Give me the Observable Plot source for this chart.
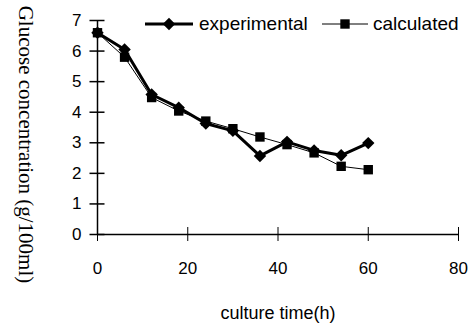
<!DOCTYPE html>
<html><head><meta charset="utf-8">
<script src="https://cdn.jsdelivr.net/npm/d3@7"></script>
<script src="https://cdn.jsdelivr.net/npm/@observablehq/plot@0.6"></script>
<style>html,body{margin:0;padding:0;background:#fff} svg{display:block}</style>
</head><body><div id="chart"></div>
<script>
const time = [0, 6, 12, 18, 24, 30, 36, 42, 48, 54, 60];
const experimental = [6.6, 6.05, 4.58, 4.15, 3.63, 3.39, 2.57, 3.03, 2.75, 2.59, 2.99];
const calculated = [6.6, 5.8, 4.48, 4.04, 3.71, 3.46, 3.19, 2.94, 2.67, 2.23, 2.12];
const xTicks = [0, 20, 40, 60, 80];
const yTicks = [0, 1, 2, 3, 4, 5, 6, 7];
const seriesNames = ["experimental", "calculated"];
const xLabel = "culture time(h)";
const yLabel = "Glucose concentration (g/100ml)";

const W = 472, H = 324, mL = 97, mR = 14, mT = 20, mB = 90;
const frameW = W - mL - mR, frameH = H - mT - mB;
const yTickHalf = 7.5, xTickHalf = 7;
const expRows = time.map((t, i) => ({t, v: experimental[i]}));
const calcRows = time.map((t, i) => ({t, v: calculated[i]}));

const plot = Plot.plot({
  width: W, height: H,
  marginLeft: mL, marginRight: mR, marginTop: mT, marginBottom: mB,
  x: {domain: [xTicks[0], xTicks[xTicks.length - 1]]},
  y: {domain: [yTicks[0], yTicks[yTicks.length - 1]]},
  style: {fontFamily: "'Liberation Sans', Arial, sans-serif", fontSize: "17px", color: "#000", background: "#fff"},
  marks: [
    Plot.tickY(yTicks, {y: d => d, insetLeft: -yTickHalf, insetRight: frameW - yTickHalf, stroke: "#000", strokeWidth: 1.5}),
    Plot.axisY(yTicks, {tickSize: 0, tickPadding: 16, label: null, fontSize: 17}),
    Plot.tickX(xTicks, {x: d => d, insetTop: frameH - xTickHalf, insetBottom: -xTickHalf, stroke: "#000", strokeWidth: 1}),
    Plot.axisX(xTicks, {tickSize: 0, tickPadding: 27, label: null, fontSize: 17}),
    Plot.ruleX([xTicks[0]], {y1: yTicks[0], y2: yTicks[yTicks.length - 1], strokeWidth: 1.5}),
    Plot.ruleY([yTicks[0]], {x1: xTicks[0], x2: xTicks[xTicks.length - 1], strokeWidth: 1.5}),
    Plot.line(calcRows, {x: "t", y: "v", stroke: "#000", strokeWidth: 1}),
    Plot.dot(calcRows, {x: "t", y: "v", symbol: "square", r: 5.3, fill: "#000", stroke: "none"}),
    Plot.line(expRows, {x: "t", y: "v", stroke: "#000", strokeWidth: 3}),
    Plot.dot(expRows, {x: "t", y: "v", symbol: "diamond2", r: 5.6, fill: "#000", stroke: "none"}),
    Plot.text([xLabel], {frameAnchor: "bottom", textAnchor: "middle", lineAnchor: "bottom", dy: 84, fontSize: 18}),
    Plot.text([yLabel], {frameAnchor: "left", textAnchor: "middle", lineAnchor: "middle", dx: -72, dy: 17, rotate: 90,
      fontFamily: "'Liberation Serif', 'Times New Roman', serif", fontSize: 21})
  ]
});
document.getElementById("chart").appendChild(plot);

// legend
const svg = d3.select(plot);
const leg = svg.append("g").attr("font-family", "'Liberation Sans', Arial, sans-serif")
  .attr("font-size", 19).attr("text-anchor", "start");
const items = [
  {name: seriesNames[0], x0: 145, x1: 193, sw: 3, sym: d3.symbolDiamond2, r: 5.6, tx: 199},
  {name: seriesNames[1], x0: 322, x1: 368, sw: 1, sym: d3.symbolSquare, r: 5.3, tx: 373}
];
const ly = 24;
items.forEach(it => {
  leg.append("line").attr("x1", it.x0).attr("x2", it.x1).attr("y1", ly).attr("y2", ly)
    .attr("stroke", "#000").attr("stroke-width", it.sw);
  const cx = (it.x0 + it.x1) / 2;
  leg.append("path").attr("d", d3.symbol(it.sym, Math.PI * it.r * it.r)())
    .attr("transform", `translate(${cx},${ly})`).attr("fill", "#000");
  leg.append("text").attr("x", it.tx).attr("y", ly + 6).attr("text-anchor", "start").text(it.name);
});
</script>
</body></html>
